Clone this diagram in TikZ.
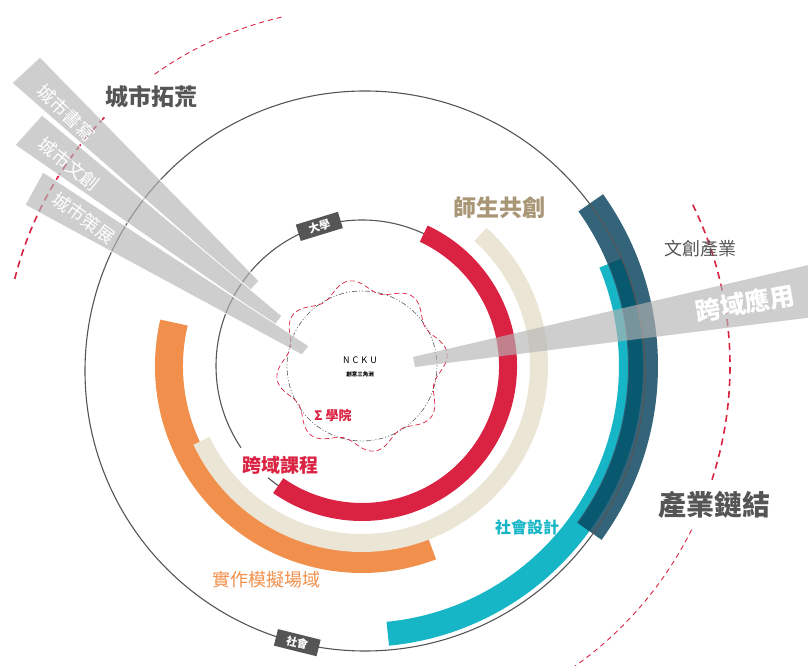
\documentclass[tikz,border=0pt]{standalone}
\usepackage{fontspec}
\usepackage{tikz}
\usetikzlibrary{calc}
\newfontfamily\cjk{Noto Sans CJK TC}
\newcommand\sz[1]{\fontsize{#1}{#1}\selectfont}
\definecolor{crimson}{RGB}{218,34,66}
\definecolor{sand}{RGB}{235,229,214}
\definecolor{tangerine}{RGB}{240,144,76}
\definecolor{lagoon}{RGB}{22,182,198}
\definecolor{slate}{RGB}{52,100,122}
\definecolor{deepteal}{RGB}{8,88,112}
\definecolor{tan}{RGB}{168,150,118}
\definecolor{ink}{RGB}{85,85,85}
\definecolor{fog}{RGB}{180,180,180}

\begin{document}
\begin{tikzpicture}
  [x=1pt,y=1pt,every node/.style={font=\cjk,inner sep=0pt},
   ring/.style={ink,line width=1.1},
   tag/.style={fill=ink,text=white,minimum width=44,minimum height=17,font=\cjk\bfseries\sz{11}},
   beam/.style={fill=fog,fill opacity=.65,draw=white,line width=.8},
   beamtext/.style={text=white,font=\cjk\sz{18}},
   reddash/.style={crimson,line width=1.6,dash pattern=on 7 off 5},
   redfine/.style={crimson,line width=.9,dash pattern=on 5 off 4}]
  \useasboundingbox (0,0) rectangle (808,666);
  \clip (0,0) rectangle (808,666);
  \coordinate (c) at (362,300);
  \coordinate (b) at (365,295);

  % rings
  \draw[ring] (c) ++(-130:146) arc[start angle=-130,end angle=214,radius=146];
  \foreach \col/\from/\to/\rad/\wid in {tangerine/167/291/193/28,sand/48/-155/177/18,
              crimson/65/-125/146/18,lagoon/22.5/-84.5/269/24,
              slate/35.5/-36/281/30,deepteal/22.5/-36/274/14}
    \draw[line width=\wid,\col] (c) ++(\from:\rad) arc[start angle=\from,end angle=\to,radius=\rad];
  \draw[ring] (b) circle[radius=280];
  \node[tag,rotate=17] (univ) at ($(c)+(107:146)$) {大學};
  \node[tag,rotate=-14] (society) at ($(b)+(256:280)$) {社會};

  % core
  \draw[ink,line width=.6,dash pattern=on 1 off 2 on 1 off 2 on 5 off 2] (c) circle[radius=75];
  \draw[crimson,line width=.7,dash pattern=on 5 off 3,shift={(c)}]
    plot[domain=0:360,samples=121,smooth] (\x:{80+6*sin(8*\x+20)});
  \node (ncku) at (360,306) {\sz{9}N\,\,C\,\,K\,\,U};
  \node (nckusub) at (360,292) {\bfseries\sz{5.5}創意三角洲};
  \node[text=crimson,font=\cjk\bfseries\sz{13}] (sigma) at (333,251) {Σ 學院};

  % outer dashed arcs
  \draw[reddash] (c) ++(26:368) arc[start angle=26,end angle=-18,radius=368];
  \draw[redfine] (c) ++(-26.4:368) arc[start angle=-26.4,end angle=-58,radius=368];
  \draw[redfine] (c) ++(103:358) arc[start angle=103,end angle=126,radius=358];
  \draw[reddash] (c) ++(136:358) arc[start angle=136,end angle=166,radius=358];

  % beams
  \fill[beam] (12,583) -- (40,609) -- (259,385) -- (250,375) -- cycle;
  \fill[beam] (15,521) -- (42,551) -- (282,350) -- (275,341) -- cycle;
  \fill[beam] (25,461) -- (43,494) -- (309,320) -- (302,311) -- cycle;
  \fill[fog,fill opacity=.65] (413,309) -- (830,406) -- (830,351) -- (415,299) -- cycle;
  \node[beamtext,rotate=-44] (writing) at (66,553) {城市書寫};
  \node[beamtext,rotate=-39] (creative) at (69,502) {城市文創};
  \node[beamtext,rotate=-36] (curating) at (84,448) {城市策展};
  \node[text=white,font=\cjk\bfseries\sz{25},rotate=10] (crossapp) at (745,363) {跨域應用};

  % labels
  \node[text=ink,font=\cjk\bfseries\sz{23}] (city) at (151,569) {城市拓荒};
  \node[text=tan,font=\cjk\bfseries\sz{23}] (cocreate) at (499,458) {師生共創};
  \node[text=ink,font=\cjk\sz{18}] (culture) at (700,417) {文創產業};
  \node[text=ink,font=\cjk\bfseries\sz{28}] (industry) at (714,161) {產業鏈結};
  \node[text=lagoon,font=\cjk\bfseries\sz{16}] (social) at (527,139) {社會設計};
  \node[text=tangerine,font=\cjk\sz{18}] (field) at (266,86) {實作模擬場域};
  \node[text=crimson,font=\cjk\bfseries\sz{19}] (course) at (280,201) {跨域課程};
\end{tikzpicture}
\end{document}
